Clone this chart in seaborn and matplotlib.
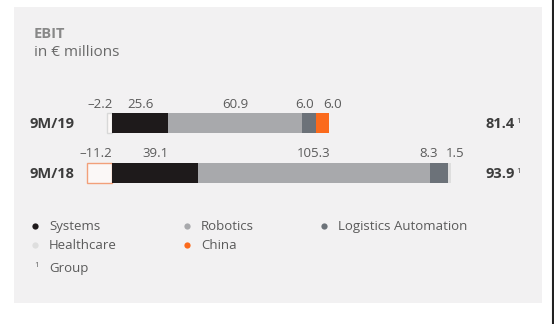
import matplotlib
matplotlib.use("Agg")
import matplotlib.pyplot as plt
import matplotlib.transforms as mtransforms
from matplotlib.patches import Rectangle
from matplotlib.lines import Line2D
import seaborn as sns
import pandas as pd
import numpy as np

# ---------------- data ----------------
periods = ["9M/19", "9M/18"]
segments = ["Systems", "Robotics", "Logistics Automation", "Healthcare", "China"]
systems = [25.6, 39.1]
robotics = [60.9, 105.3]
logistics = [6.0, 8.3]
healthcare = [-2.2, 1.5]
china = [6.0, -11.2]
group = [81.4, 93.9]
values = {
    "Systems": systems,
    "Robotics": robotics,
    "Logistics Automation": logistics,
    "Healthcare": healthcare,
    "China": china,
}
colors = {
    "Systems": "#1e1a1b",
    "Robotics": "#a8a9ac",
    "Logistics Automation": "#6c7279",
    "Healthcare": "#dedede",
    "China": "#fb6a1c",
}
neg_edge = {"Healthcare": "#d8d8d8", "China": "#f2a07a"}
# label nudges in pixels (to avoid overlapping small labels)
nudge = {("9M/19", "Logistics Automation"): -4, ("9M/19", "China"): 10,
         ("9M/18", "Logistics Automation"): -10, ("9M/18", "Healthcare"): 6}

sns.set_theme(style="white")
plt.rcParams["font.family"] = ["Open Sans", "DejaVu Sans"]

W, H = 554, 324
fig = plt.figure(figsize=(W / 100, H / 100), dpi=100)
fig.patch.set_facecolor("white")

# overlay axes in pixel coordinates
ov = fig.add_axes([0, 0, 1, 1])
ov.set_xlim(0, W)
ov.set_ylim(H, 0)
ov.axis("off")
ov.add_patch(Rectangle((14, 7), 528, 296, facecolor="#f2f1f2", edgecolor="none", zorder=0))
ov.add_line(Line2D([553, 553], [0, H], color="#222222", lw=1.5))

# bar axes
zero_px, scale = 112.0, 2.2
ax_l, ax_r = 60.0, 540.0
ax_t, ax_b = 90.0, 200.0
row_c = [123.0, 172.5]
row_sp = row_c[1] - row_c[0]
ax = fig.add_axes([ax_l / W, 1 - ax_b / H, (ax_r - ax_l) / W, (ax_b - ax_t) / H])
ax.set_facecolor("none")
ax.set_zorder(2)

# compute stacking
rows = []
for i, p in enumerate(periods):
    cum = 0.0
    for s in segments:
        v = values[s][i]
        if v >= 0:
            rows.append(dict(period=p, segment=s, value=v, start=cum, end=cum + v))
            cum += v
        else:
            rows.append(dict(period=p, segment=s, value=v, start=0.0, end=v))
df = pd.DataFrame(rows)

bw = 20.0 / row_sp
for s in reversed(segments):
    sub = df[df.segment == s]
    n0 = len(ax.patches)
    sns.barplot(data=sub, x="end", y="period", order=periods, orient="h",
                color=colors[s], width=bw, saturation=1, ax=ax, errorbar=None)
    for patch in ax.patches[n0:]:
        if patch.get_width() < 0:
            patch.set_facecolor("#fbf8f7")
            patch.set_edgecolor(neg_edge[s])
            patch.set_linewidth(1.0)
        else:
            patch.set_edgecolor("none")

ax.set_xlim((ax_l - zero_px) / scale, (ax_r - zero_px) / scale)
ax.set_ylim(1 + (ax_b - row_c[1]) / row_sp, -(row_c[0] - ax_t) / row_sp)
ax.axis("off")

# value labels
for _, r in df.iterrows():
    i = periods.index(r.period)
    y = i - 19.0 / row_sp
    txt = f"{r.value:.1f}".replace("-", "\u2013")
    dx = nudge.get((r.period, r.segment), 0)
    tr = ax.transData + mtransforms.ScaledTranslation(dx / 100, 0, fig.dpi_scale_trans)
    if r.value < 0:
        ax.text(0.5 / scale, y, txt, ha="right", va="center", fontsize=9.5,
                color="#5a5a5a", transform=tr)
    else:
        ax.text((r.start + r.end) / 2, y, txt, ha="center", va="center",
                fontsize=9.5, color="#5a5a5a", transform=tr)

# titles
ov.text(34, 38, "EBIT", fontsize=10.5, fontweight="bold", color="#888888", va="baseline")
ov.text(34, 56, "in € millions", fontsize=11, color="#6a6a6a", va="baseline")

# row labels and totals
for i, p in enumerate(periods):
    base = row_c[i] + 5
    ov.text(30, base, p, fontsize=10.5, fontweight="bold", color="#3c3c3c", va="baseline")
    t = ov.text(485, base, f"{group[i]:.1f}", fontsize=10.5, fontweight="bold",
                color="#3c3c3c", va="baseline")
    ov.annotate("1", xy=(1, 1), xycoords=t, xytext=(1.5, -0.8), textcoords="offset points",
                fontsize=5.5, color="#3c3c3c", ha="left", va="top")

# legend
leg_pos = {
    "Systems": (35, 226), "Robotics": (187, 226), "Logistics Automation": (324, 226),
    "Healthcare": (35, 245), "China": (187, 245),
}
for s, (mx, my) in leg_pos.items():
    ov.plot([mx], [my], marker="o", ms=4.5, color=colors[s], mec="none")
    ov.text(mx + 14, my + 4, s, fontsize=9.5, color="#5a5a5a", va="baseline")
ov.text(34, 267, "1", fontsize=5.5, color="#5a5a5a", va="baseline")
ov.text(49, 272, "Group", fontsize=9.5, color="#5a5a5a", va="baseline")

fig.savefig("out.png", dpi=100, facecolor="white")
